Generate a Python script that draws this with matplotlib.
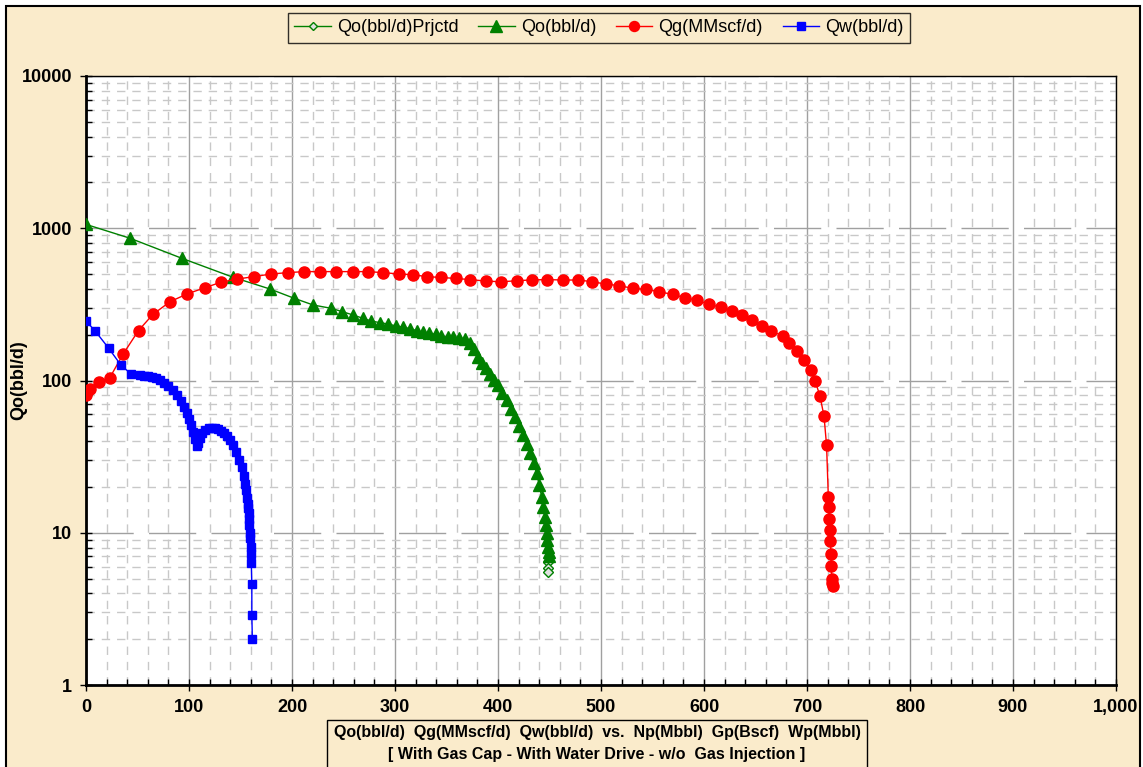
import numpy as np
import matplotlib
matplotlib.use('Agg')
import matplotlib.pyplot as plt
from matplotlib.patches import Rectangle
from matplotlib.ticker import FixedLocator, FuncFormatter, NullFormatter

plt.rcParams['font.family'] = ['Liberation Sans', 'DejaVu Sans']

# Qo (bbl/d) vs Np (Mbbl)
np_qo = [0, 42.7, 93, 143, 178.6, 202, 220.7, 238, 249, 259.5, 269, 277, 285, 293.5, 301, 308,
         314.6, 321.7, 327.5, 333, 340, 345, 351, 356.6, 362.4, 368, 373, 377, 381, 384.5, 388,
         392, 396, 400, 404, 408.5, 412.5, 416.5, 420.5, 424.6, 428, 431, 434.5, 437.6, 440,
         442.4, 444, 445.6, 446.5, 447.3, 448, 448.8, 449.3, 449.8]
qo = [1060, 860, 635, 476, 399, 347, 313, 298, 283, 269, 256, 246, 240, 235, 228, 224,
      219, 212, 207, 204, 201, 196, 192, 192, 191, 187, 176, 160, 143, 130, 120,
      111, 101, 93, 83, 74.5, 65, 57.8, 50, 43.8, 38, 33.3, 28.5, 24.6, 20.5,
      17.3, 14.8, 12.7, 11.2, 9.9, 9.0, 8.1, 7.5, 7.0]

# projected Qo
np_proj = [448.2, 448.6, 448.2]
qo_proj = [6.4, 5.9, 5.5]

# Qg (MMscf/d) vs Gp (Bscf)
gp = [0, 4, 12.6, 23, 36, 51, 65, 81.5, 98, 115.5, 131, 147, 163, 180, 196, 211.6, 227, 243,
      259, 273.5, 288.6, 303.6, 317.8, 330.8, 345, 359, 373, 388, 403, 418, 433, 448, 463,
      478, 491, 504.5, 517.5, 530.7, 543.7, 556, 569.6, 581.5, 593.5, 605, 616.5, 627.5,
      636.6, 646.6, 656, 665, 677, 683, 690, 697, 703.6, 708, 712.6, 716.5, 719, 720.7,
      721.4, 721.7, 722.3, 722.6, 723.3, 723.6, 724, 724.5, 725]
qg = [80, 88, 98, 104, 149, 213, 272, 329, 370, 407, 442, 464, 481, 501, 511, 519, 519, 519,
      519, 519, 511, 501, 495, 481, 475, 468, 460, 450, 445, 452, 458, 460, 457,
      457, 446, 430, 420, 403, 397, 383, 368, 350, 336, 317, 302, 286,
      269, 250, 228, 211, 196, 175, 156, 136, 117, 99, 79, 58.5, 37.5, 17.3,
      14.7, 12.4, 10.4, 8.8, 7.3, 6.05, 5.0, 4.7, 4.5]

# Qw (bbl/d) vs Wp (Mbbl)
wp = [0, 9, 22, 34, 44, 52, 56, 60, 64, 68, 72, 76, 80, 84, 88, 92, 95, 98, 100, 102, 104,
      106, 107.5, 109, 111, 113, 116, 119, 122, 125, 128, 131, 134, 137, 140, 143, 146,
      149, 151, 153, 154.5, 155.5, 156.5, 157, 157.5, 158, 158.5, 158.5, 159, 159.5, 160,
      160.5, 160.5, 161, 161, 161.5]
qw = [246, 211, 163, 126, 110, 108, 107.5, 107, 106, 104, 101, 97, 92, 86, 80, 73, 67, 61,
      56, 51, 46, 41, 37, 39, 42, 45, 47.5, 48.5, 49, 48.8, 48, 46.5, 45, 43, 40.5, 37.5,
      34, 30, 27, 23.5, 21, 19, 17, 15.5, 14.5, 13.5, 12.3, 11.2, 10, 9.2, 8.1, 7.2, 6.3,
      4.6, 2.9, 2.0]

x_ticks = [0, 100, 200, 300, 400, 500, 600, 700, 800, 900, 1000]
y_ticks = [1, 10, 100, 1000, 10000]

W, H = 1143, 767
fig = plt.figure(figsize=(W / 100, H / 100), dpi=100, facecolor='white')

# parchment background with black frame
fig.patches.append(Rectangle((6 / W, -0.02), (1140 - 6) / W, 1 - 6 / H + 0.02,
                             transform=fig.transFigure, facecolor='#FAEBCB',
                             edgecolor='black', linewidth=1.5, zorder=-10))

ax = fig.add_axes([86 / W, 1 - 685 / H, (1116 - 86) / W, (685 - 76) / H])
ax.set_facecolor('white')
ax.set_yscale('log')
ax.set_xlim(0, 1000)
ax.set_ylim(1, 10000)

ax.xaxis.set_major_locator(FixedLocator(x_ticks))
ax.xaxis.set_minor_locator(FixedLocator([v for v in range(0, 1001, 20) if v % 100]))
ax.xaxis.set_major_formatter(FuncFormatter(lambda v, p: '{:,.0f}'.format(v)))
ax.yaxis.set_major_locator(FixedLocator(y_ticks))
ax.yaxis.set_minor_locator(FixedLocator([m * 10 ** e for e in range(4) for m in range(2, 10)]))
ax.yaxis.set_major_formatter(FuncFormatter(lambda v, p: '{:.0f}'.format(v)))
ax.yaxis.set_minor_formatter(NullFormatter())

# grid
ax.grid(axis='x', which='major', color='#A0A0A0', linestyle='-', linewidth=1)
ax.grid(axis='y', which='major', color='#A0A0A0', linestyle=(0, (34, 11)), linewidth=1)
ax.grid(which='minor', color='#C8C8C8', linestyle=(0, (6, 5)), linewidth=1)
ax.set_axisbelow(True)

for s in ax.spines.values():
    s.set_color('black')
    s.set_linewidth(1.0)
ax.spines['left'].set_linewidth(2)
ax.spines['bottom'].set_linewidth(2)

ax.tick_params(which='major', direction='inout', length=8, width=1, labelsize=13, pad=6)
ax.tick_params(which='minor', direction='in', length=4, width=1)
for lab in ax.get_xticklabels() + ax.get_yticklabels():
    lab.set_fontweight('bold')

ax.plot(np_proj, qo_proj, color='#008000', lw=1, marker='D', ms=5,
        mfc='#E0E0E0', mec='#008000', mew=1, label='Qo(bbl/d)Prjctd', zorder=3)
ax.plot(np_qo, qo, color='#008000', lw=1, marker='^', ms=9, mfc='#008000', mec='#008000',
        label='Qo(bbl/d)', zorder=3)
ax.plot(gp, qg, color='#FF0000', lw=1, marker='o', ms=8, mfc='#FF0000', mec='#FF0000',
        label='Qg(MMscf/d)', zorder=4)
ax.plot(wp, qw, color='#0000FF', lw=1, marker='s', ms=6, mfc='#0000FF', mec='#0000FF',
        label='Qw(bbl/d)', zorder=5)

ax.set_ylabel('Qo(bbl/d)', fontsize=13, fontweight='bold')
ax.yaxis.set_label_coords((27 - 86) / (1116 - 86), 0.5)

leg = fig.legend(loc='center', bbox_to_anchor=(599 / W, 1 - 28 / H), ncol=4, fontsize=13,
                 frameon=True, fancybox=False, edgecolor='black', facecolor='none',
                 handlelength=2.0, columnspacing=1.1, handletextpad=0.35, borderpad=0.35,
                 markerscale=0.9)
leg.get_frame().set_linewidth(1)

# x axis caption box
fig.patches.append(Rectangle((327 / W, -0.02), (867 - 327) / W, 0.02 + 1 - 720 / H,
                             transform=fig.transFigure, facecolor='none',
                             edgecolor='black', linewidth=1, zorder=5))
fig.text(597 / W, 1 - 733 / H,
         'Qo(bbl/d)  Qg(MMscf/d)  Qw(bbl/d)  vs.  Np(Mbbl)  Gp(Bscf)  Wp(Mbbl)',
         ha='center', va='center', fontsize=11.5, fontweight='bold')
fig.text(597 / W, 1 - 754 / H,
         '[ With Gas Cap - With Water Drive - w/o  Gas Injection ]',
         ha='center', va='center', fontsize=11.5, fontweight='bold')

fig.savefig('out.png', dpi=100, facecolor=fig.get_facecolor())
